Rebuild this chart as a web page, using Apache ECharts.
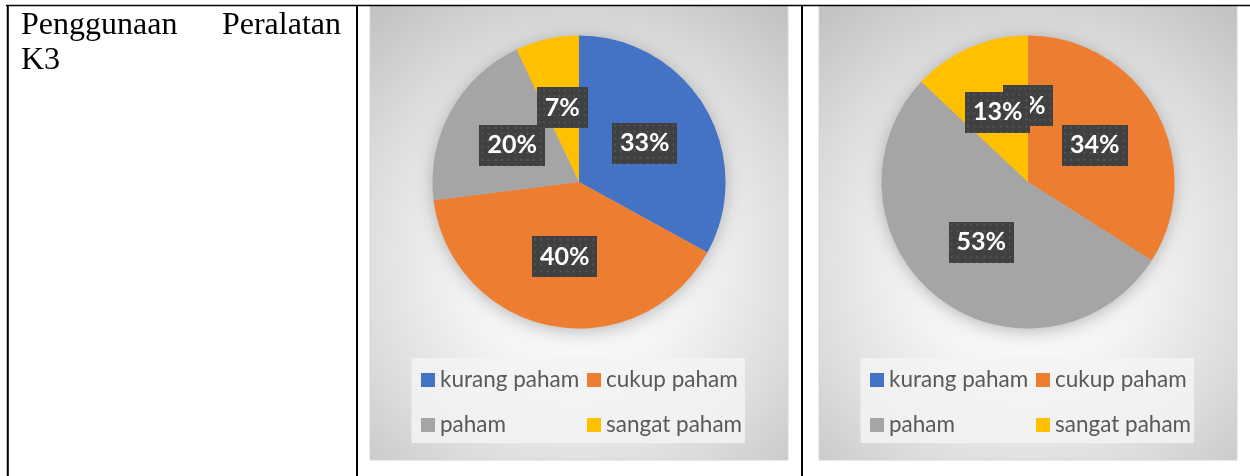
<!DOCTYPE html>
<html>
<head>
<meta charset="utf-8">
<script src="https://cdn.jsdelivr.net/npm/echarts@6/dist/echarts.min.js"></script>
<style>
  html, body { margin: 0; padding: 0; background: #ffffff; }
  #main { width: 1250px; height: 476px; }
</style>
</head>
<body>
<div id="main"></div>
<script>
// ---- data ----
const categories = ['kurang paham', 'cukup paham', 'paham', 'sangat paham'];
const chart1Values = [33, 40, 20, 7];
const chart2Values = [0, 34, 53, 13];
const sliceColors = ['#4472C4', '#ED7D31', '#A5A5A5', '#FFC000'];
const cellTitleLine1 = ['Penggunaan', 'Peralatan'];
const cellTitleLine2 = 'K3';

// ---- layout constants ----
const panels = [
  { x: 370, y: 6, w: 418, h: 454, cx: 579, cy: 182, legendLeft: [421, 587] },
  { x: 819, y: 6, w: 418, h: 454, cx: 1028, cy: 182, legendLeft: [870, 1036] }
];
const pieR = 146.5;

// dotted label background
function makeDotCanvas() {
  const c = document.createElement('canvas');
  c.width = 64; c.height = 41;
  const ctx = c.getContext('2d');
  ctx.fillStyle = '#404040';
  ctx.fillRect(0, 0, 64, 41);
  ctx.fillStyle = '#555555';
  for (let y = 2; y < 41; y += 6.3) {
    for (let x = 2; x < 64; x += 6.3) {
      ctx.fillRect(Math.round(x), Math.round(y), 2, 2);
    }
  }
  return c;
}
const dotBg = makeDotCanvas();

const chart = echarts.init(document.getElementById('main'), null, { renderer: 'canvas' });

const graphics = [];
panels.forEach(function (p) {
  graphics.push({
    type: 'rect', z: 0, silent: true,
    shape: { x: p.x, y: p.y, width: p.w, height: p.h },
    style: {
      fill: new echarts.graphic.RadialGradient(0.5, 0.56, 0.76, [
        { offset: 0, color: '#ffffff' },
        { offset: 0.35, color: '#f5f5f5' },
        { offset: 0.7, color: '#dcdcdc' },
        { offset: 1, color: '#c3c3c3' }
      ]),
      stroke: '#d6d6d6', lineWidth: 1
    }
  });
  // pie drop shadow
  graphics.push({
    type: 'circle', z: 1, silent: true,
    shape: { cx: p.cx, cy: p.cy, r: pieR - 1 },
    style: { fill: '#bbbbbb', shadowBlur: 18, shadowColor: 'rgba(0,0,0,0.28)', shadowOffsetX: 0, shadowOffsetY: 3 }
  });
  // legend box
  graphics.push({
    type: 'rect', z: 1, silent: true,
    shape: { x: p.legendLeft[0] - 9.5, y: 358, width: 333.5, height: 85 },
    style: { fill: 'rgba(243,243,243,0.85)' }
  });
});

// table borders
const lineStyle = { stroke: '#000000', lineWidth: 2 };
graphics.push({ type: 'line', z: 5, silent: true, shape: { x1: 6, y1: 5.5, x2: 1250, y2: 5.5 }, style: { stroke: '#000', lineWidth: 1.6 } });
graphics.push({ type: 'line', z: 5, silent: true, shape: { x1: 7.8, y1: 5, x2: 7.8, y2: 476 }, style: lineStyle });
graphics.push({ type: 'line', z: 5, silent: true, shape: { x1: 357, y1: 5, x2: 357, y2: 476 }, style: lineStyle });
graphics.push({ type: 'line', z: 5, silent: true, shape: { x1: 802, y1: 5, x2: 802, y2: 476 }, style: lineStyle });

// cell text (justified first line)
const serif = { fontFamily: 'Liberation Serif', fontSize: 32, fill: '#000000' };
graphics.push({ type: 'text', z: 5, silent: true, style: Object.assign({ text: cellTitleLine1[0], x: 21, y: 25.5, align: 'left', verticalAlign: 'middle' }, serif) });
graphics.push({ type: 'text', z: 5, silent: true, style: Object.assign({ text: cellTitleLine1[1], x: 341, y: 25.5, align: 'right', verticalAlign: 'middle' }, serif) });
graphics.push({ type: 'text', z: 5, silent: true, style: Object.assign({ text: cellTitleLine2, x: 21, y: 61, align: 'left', verticalAlign: 'middle' }, serif) });

function pieSeries(values, p) {
  return {
    type: 'pie',
    z: 3,
    center: [p.cx, p.cy],
    radius: [0, pieR],
    startAngle: 90,
    clockwise: true,
    percentPrecision: 0,
    avoidLabelOverlap: false,
    minShowLabelAngle: -1,
    labelLayout: { hideOverlap: false },
    silent: true,
    itemStyle: { borderWidth: 0 },
    label: {
      show: true,
      position: 'inside',
      formatter: '{d}%',
      color: '#ffffff',
      fontFamily: 'Lato',
      fontWeight: 'bold',
      fontSize: 25,
      lineHeight: 25,
      padding: [8, 8, 8, 8],
      backgroundColor: { image: dotBg },
      shadowColor: 'rgba(0,0,0,0.55)',
      shadowBlur: 7,
      shadowOffsetX: 3,
      shadowOffsetY: 3
    },
    labelLine: { show: false },
    emphasis: { disabled: true },
    data: categories.map(function (name, i) {
      return { name: name, value: values[i], itemStyle: { color: sliceColors[i] } };
    })
  };
}

function legendCol(names, left) {
  return {
    data: names,
    orient: 'vertical',
    left: left,
    top: 368,
    padding: 0,
    itemWidth: 14,
    itemHeight: 14,
    itemGap: 21,
    icon: 'rect',
    selectedMode: false,
    z: 6,
    textStyle: { fontFamily: 'Lato', fontSize: 22.5, color: '#595959', lineHeight: 24 }
  };
}

const legends = [];
panels.forEach(function (p) {
  legends.push(legendCol([categories[0], categories[2]], p.legendLeft[0]));
  legends.push(legendCol([categories[1], categories[3]], p.legendLeft[1]));
});

chart.setOption({
  animation: false,
  color: sliceColors,
  graphic: { elements: graphics },
  legend: legends,
  tooltip: { show: false },
  series: [pieSeries(chart1Values, panels[0]), pieSeries(chart2Values, panels[1])]
});
</script>
</body>
</html>
